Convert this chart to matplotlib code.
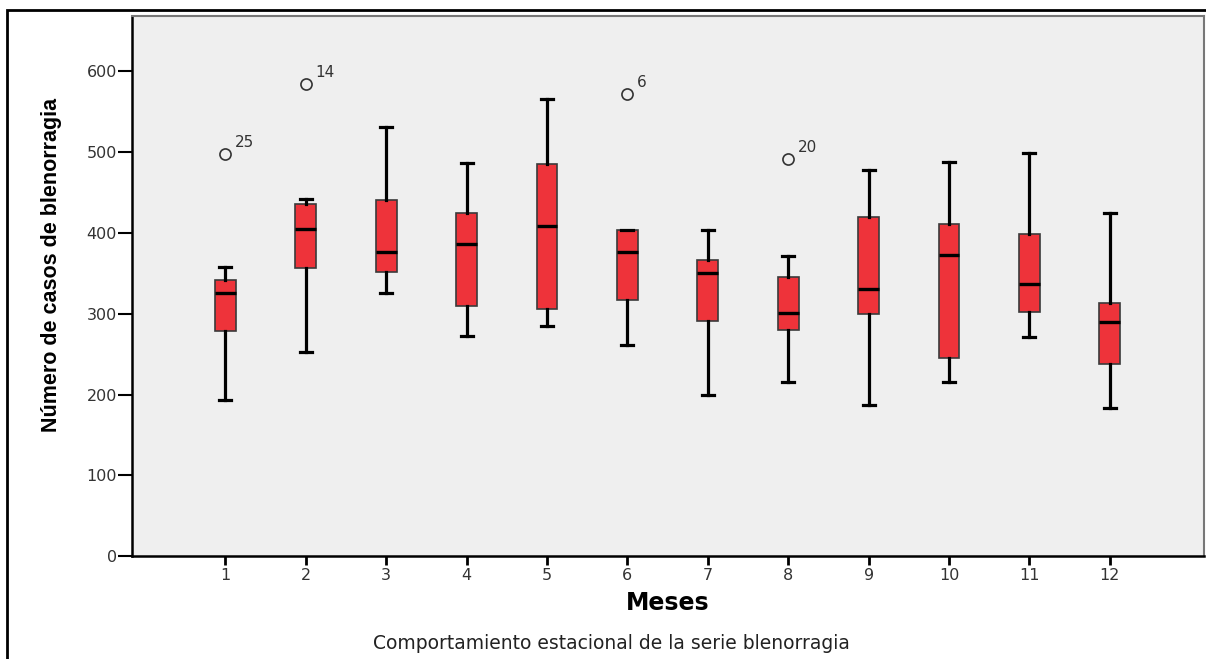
import matplotlib
matplotlib.use("Agg")
import matplotlib.pyplot as plt
from matplotlib.patches import Rectangle

# box plot summaries (month 1..12)
months = [1, 2, 3, 4, 5, 6, 7, 8, 9, 10, 11, 12]
whislo = [193, 253, 326, 273, 285, 261, 199, 216, 187, 216, 271, 183]
q1 = [278, 357, 352, 310, 306, 317, 291, 280, 299, 245, 302, 238]
med = [325, 405, 376, 386, 409, 376, 350, 301, 330, 373, 337, 290]
q3 = [342, 436, 440, 425, 485, 404, 366, 345, 419, 411, 399, 313]
whishi = [358, 442, 531, 486, 566, 404, 403, 371, 478, 488, 499, 424]

# outliers: month, value, case label
out_month = [1, 2, 6, 8]
out_value = [497, 584, 572, 491]
out_label = ["25", "14", "6", "20"]

plt.rcParams['font.family'] = ['DejaVu Sans']

fig = plt.figure(figsize=(12.06, 6.59), dpi=100)
ax = fig.add_axes([0.1095, 0.1558, 0.8888, 0.8199])
ax.set_facecolor('#efefef')

stats = []
for i in range(len(months)):
    fl = [v for m, v in zip(out_month, out_value) if m == months[i]]
    stats.append(dict(whislo=whislo[i], q1=q1[i], med=med[i], q3=q3[i],
                      whishi=whishi[i], fliers=fl))

ax.bxp(stats, positions=months, widths=0.26, patch_artist=True,
       showfliers=True,
       boxprops=dict(facecolor='#ee333a', edgecolor='#3a3a3a', linewidth=1.2),
       medianprops=dict(color='black', linewidth=2.4),
       whiskerprops=dict(color='black', linewidth=2.3),
       capprops=dict(color='black', linewidth=2.3),
       capwidths=0.15,
       flierprops=dict(marker='o', markerfacecolor='none', markeredgecolor='#333333',
                       markersize=8, markeredgewidth=1.2))

for m, v, lab in zip(out_month, out_value, out_label):
    ax.annotate(lab, (m, v), xytext=(7, 5), textcoords='offset points',
                fontsize=11, color='#333333')

ax.set_xlim(-0.16, 13.17)
ax.set_ylim(0, 668)
ax.set_xticks(months)
ax.set_xticklabels([str(m) for m in months])
ax.set_yticks([0, 100, 200, 300, 400, 500, 600])

ax.tick_params(axis='both', labelsize=11.5, labelcolor='#333333', direction='out')
ax.tick_params(axis='y', length=10, width=1.5, pad=1)
ax.tick_params(axis='x', length=6.5, width=2, pad=2)

for s in ['left', 'bottom']:
    ax.spines[s].set_linewidth(1.8)
    ax.spines[s].set_color('black')
for s in ['top', 'right']:
    ax.spines[s].set_linewidth(1.5)
    ax.spines[s].set_color('#777777')

fig.text(0.043, 0.598, 'Número de casos de blenorragia', rotation=90,
         ha='center', va='center', fontsize=15.5, fontweight='bold',
         family=['Liberation Sans', 'DejaVu Sans'])
fig.text(0.554, 0.085, 'Meses', ha='center', va='center',
         fontsize=17, fontweight='bold')
fig.text(0.507, 0.024, 'Comportamiento estacional de la serie blenorragia',
         ha='center', va='center', fontsize=13.5, color='#222222')

# outer frame of the picture
fig.patches.append(Rectangle((0.0058, -0.05), 1.05, 0.05 + 0.9848,
                             transform=fig.transFigure, fill=False,
                             edgecolor='black', linewidth=2))

fig.savefig('out.png', dpi=100)
